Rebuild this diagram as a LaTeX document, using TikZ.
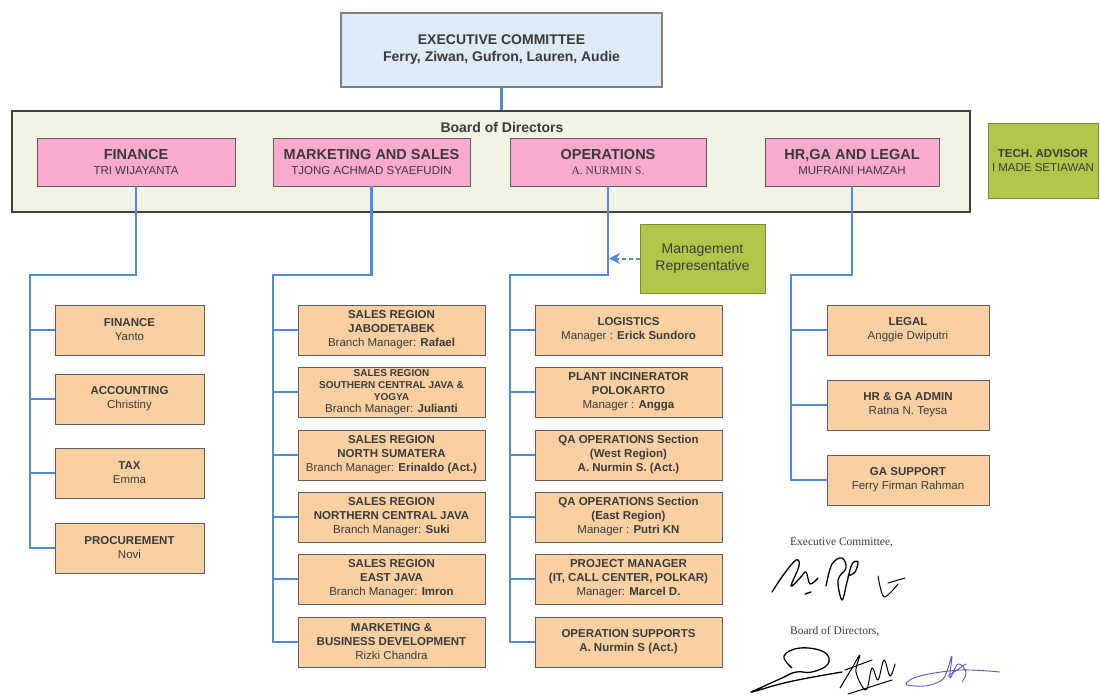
\documentclass[tikz,border=0pt]{standalone}
\usepackage{fontspec}
\setmainfont{Liberation Sans}
\newfontfamily\timesfont{Liberation Serif}
\usetikzlibrary{arrows.meta}

\definecolor{execblue}{HTML}{DDEAF7}
\definecolor{boardfill}{HTML}{F1F4E5}
\definecolor{pinkdir}{HTML}{F8AACF}
\definecolor{peach}{HTML}{FAD0A2}
\definecolor{olive}{HTML}{B4C64A}
\definecolor{linkblue}{HTML}{4F8BDB}
\definecolor{boxline}{HTML}{5E5E5E}
\definecolor{txt}{HTML}{3A3A3A}
\definecolor{inkblue}{HTML}{5B55C8}

\begin{document}
\begin{tikzpicture}[x=1pt, y=-1pt,
    box/.style={draw=boxline, line width=0.8pt, text=txt, align=center, inner sep=0pt},
    unitbox/.style={box, fill=peach, minimum height=50pt, font=\fontsize{11.5}{14}\selectfont},
    dirbox/.style={box, fill=pinkdir, minimum height=48pt},
    greenbox/.style={box, fill=olive, draw=olive!70!black},
    link/.style={draw=linkblue, line width=2.4pt},
    sign/.style={line width=1.3pt, line cap=round, line join=round},
    sigtext/.style={font=\timesfont\fontsize{11.5}{13}\selectfont, text=txt, anchor=west, inner sep=0pt},
  ]
  \useasboundingbox (0,0) rectangle (1100,697);

  % Executive committee and board
  \node[box, fill=execblue, draw=gray, line width=1.4pt, minimum width=321pt, minimum height=74pt,
        font=\fontsize{14}{17}\selectfont\bfseries] (exec) at (501.5,50) {EXECUTIVE COMMITTEE\\Ferry, Ziwan, Gufron, Lauren, Audie};
  \node[draw=black!75, fill=boardfill, line width=1.4pt, minimum width=958pt, minimum height=101pt, inner sep=0pt] (board) at (491,161.5) {};
  \node[text=txt, font=\fontsize{14}{16}\selectfont\bfseries] (boardLbl) at (502,127) {Board of Directors};
  \draw[link] (exec.south) -- (exec.south |- board.north);

  % Directors
  \node[dirbox, minimum width=198pt] (dFin) at (136,162) {{\fontsize{14.5}{17}\selectfont\bfseries FINANCE}\\[3pt]{\fontsize{11.5}{13}\selectfont TRI WIJAYANTA}};
  \node[dirbox, minimum width=197pt] (dMkt) at (371.5,162) {{\fontsize{14.5}{17}\selectfont\bfseries MARKETING AND SALES}\\[3pt]{\fontsize{11.5}{13}\selectfont TJONG ACHMAD SYAEFUDIN}};
  \node[dirbox, minimum width=196pt] (dOps) at (608,162) {{\fontsize{14.5}{17}\selectfont\bfseries OPERATIONS}\\[3pt]{\timesfont\fontsize{11.5}{13}\selectfont A. NURMIN S.}};
  \node[dirbox, minimum width=174pt] (dHR) at (852,162) {{\fontsize{14.5}{17}\selectfont\bfseries HR,GA AND LEGAL}\\[3pt]{\fontsize{11.5}{13}\selectfont MUFRAINI HAMZAH}};

  % Tech advisor
  \node[greenbox, minimum width=110pt, minimum height=75pt, font=\fontsize{11.5}{14}\selectfont] (tech) at (1043,160.5) {\textbf{TECH. ADVISOR}\\I MADE SETIAWAN};

  % Finance units
  \node[unitbox, minimum width=149pt] (uFinYanto) at (129.5,330) {\textbf{FINANCE}\\Yanto};
  \node[unitbox, minimum width=149pt] (uFinAcc) at (129.5,399) {\textbf{ACCOUNTING}\\Christiny};
  \node[unitbox, minimum width=149pt] (uFinTax) at (129.5,473) {\textbf{TAX}\\Emma};
  \node[unitbox, minimum width=149pt] (uFinProc) at (129.5,548) {\textbf{PROCUREMENT}\\Novi};

  % Marketing units
  \node[unitbox, minimum width=187pt] (uMktJbd) at (391.5,330) {\textbf{SALES REGION}\\\textbf{JABODETABEK}\\Branch Manager: \textbf{Rafael}};
  \node[unitbox, minimum width=187pt, font=\fontsize{10}{12}\selectfont] (uMktSjv) at (391.5,392) {\textbf{SALES REGION}\\\textbf{SOUTHERN CENTRAL JAVA \&}\\\textbf{YOGYA}\\{\fontsize{11.5}{13}\selectfont Branch Manager: \textbf{Julianti}}};
  \node[unitbox, minimum width=187pt] (uMktSum) at (391.5,455) {\textbf{SALES REGION}\\\textbf{NORTH SUMATERA}\\Branch Manager: \textbf{Erinaldo (Act.)}};
  \node[unitbox, minimum width=187pt] (uMktNjv) at (391.5,517) {\textbf{SALES REGION}\\\textbf{NORTHERN CENTRAL JAVA}\\Branch Manager: \textbf{Suki}};
  \node[unitbox, minimum width=187pt] (uMktEjv) at (391.5,579) {\textbf{SALES REGION}\\\textbf{EAST JAVA}\\Branch Manager: \textbf{Imron}};
  \node[unitbox, minimum width=187pt] (uMktBiz) at (391.5,642) {\textbf{MARKETING \&}\\\textbf{BUSINESS DEVELOPMENT}\\Rizki Chandra};

  % Operations units
  \node[unitbox, minimum width=187pt] (uOpsLog) at (628.5,330) {\textbf{LOGISTICS}\\Manager : \textbf{Erick Sundoro}};
  \node[unitbox, minimum width=187pt] (uOpsPlant) at (628.5,392) {\textbf{PLANT INCINERATOR}\\\textbf{POLOKARTO}\\Manager : \textbf{Angga}};
  \node[unitbox, minimum width=187pt] (uOpsQaw) at (628.5,455) {\textbf{QA OPERATIONS Section}\\\textbf{(West Region)}\\\textbf{A. Nurmin S. (Act.)}};
  \node[unitbox, minimum width=187pt] (uOpsQae) at (628.5,517) {\textbf{QA OPERATIONS Section}\\\textbf{(East Region)}\\Manager : \textbf{Putri KN}};
  \node[unitbox, minimum width=187pt] (uOpsPm) at (628.5,579) {\textbf{PROJECT MANAGER}\\\textbf{(IT, CALL CENTER, POLKAR)}\\Manager: \textbf{Marcel D.}};
  \node[unitbox, minimum width=187pt] (uOpsSup) at (628.5,642) {\textbf{OPERATION SUPPORTS}\\\textbf{A. Nurmin S (Act.)}};

  % Management representative
  \node[greenbox, minimum width=125pt, minimum height=69pt, font=\fontsize{14}{17}\selectfont] (mgmtRep) at (702.5,258.5) {Management\\Representative};

  % HR units
  \node[unitbox, minimum width=162pt] (uHrLegal) at (908,330) {\textbf{LEGAL}\\Anggie Dwiputri};
  \node[unitbox, minimum width=162pt] (uHrAdmin) at (908,405) {\textbf{HR \& GA ADMIN}\\Ratna N. Teysa};
  \node[unitbox, minimum width=162pt] (uHrGa) at (908,480) {\textbf{GA SUPPORT}\\Ferry Firman Rahman};

  % Connectors
  \coordinate (finBus) at (30,275);
  \coordinate (mktBus) at (273,275);
  \coordinate (opsBus) at (510,275);
  \coordinate (hrBus) at (791,275);

  \draw[link] (dFin.south) |- (finBus) |- (uFinProc.west);
  \foreach \n in {uFinYanto, uFinAcc, uFinTax}
    \draw[link] (finBus |- \n.west) -- (\n.west);

  \draw[link] (dMkt.south) |- (mktBus) |- (uMktBiz.west);
  \foreach \n in {uMktJbd, uMktSjv, uMktSum, uMktNjv, uMktEjv}
    \draw[link] (mktBus |- \n.west) -- (\n.west);

  \draw[link] (dOps.south) |- (opsBus) |- (uOpsSup.west);
  \foreach \n in {uOpsLog, uOpsPlant, uOpsQaw, uOpsQae, uOpsPm}
    \draw[link] (opsBus |- \n.west) -- (\n.west);

  \draw[link] (dHR.south) |- (hrBus) |- (uHrGa.west);
  \foreach \n in {uHrLegal, uHrAdmin}
    \draw[link] (hrBus |- \n.west) -- (\n.west);

  \draw[draw=linkblue, line width=2pt, dash pattern=on 4pt off 3pt, -{Stealth[length=11pt,width=11pt]}]
    (mgmtRep.west) -- ([xshift=1pt]dOps.south |- mgmtRep.west);

  % Signatures
  \node[sigtext] (sigExec) at (790,543) {Executive Committee,};
  \draw[sign] plot[smooth, tension=0.6] coordinates {(772,592) (784,574) (796,560) (799,566) (791,586) (800,578) (806,572) (810,584) (818,578)};
  \draw[sign] (805,594) -- (811,592);
  \draw[sign] plot[smooth, tension=0.6] coordinates {(826,586) (832,564) (842,558) (846,568) (838,580) (842,600) (847,582) (852,564) (858,562) (855,572) (848,576)};
  \draw[sign, line width=1pt] plot[smooth, tension=0.5] coordinates {(878,576) (884,597) (898,584)};
  \draw[sign, line width=1pt] (888,583) -- (905,578);

  \node[sigtext] (sigBoard) at (790,631) {Board of Directors,};
  \draw[sign] plot[smooth, tension=0.7] coordinates {(792,668) (784,656) (800,648) (824,652) (828,664) (812,672) (796,672) (782,678) (760,688) (752,692) (780,684) (808,678) (842,672)};
  \draw[sign, line width=1pt] plot[smooth, tension=0.6] coordinates {(840,688) (852,668) (860,655) (856,672) (866,690) (872,668) (878,680) (884,660) (890,676) (895,664)};
  \draw[sign, line width=1pt] (845,670) -- (872,660);
  \draw[sign, line width=1pt] (848,694) -- (892,680);
  \draw[sign, draw=inkblue, line width=0.9pt] plot[smooth, tension=0.6] coordinates {(1000,672) (960,670) (920,676) (906,684) (925,686) (942,680) (948,668) (952,656) (950,678) (958,664) (966,672) (962,682)};
  \draw[sign, draw=inkblue, line width=0.9pt] (948,676) -- (966,664);

\end{tikzpicture}
\end{document}
